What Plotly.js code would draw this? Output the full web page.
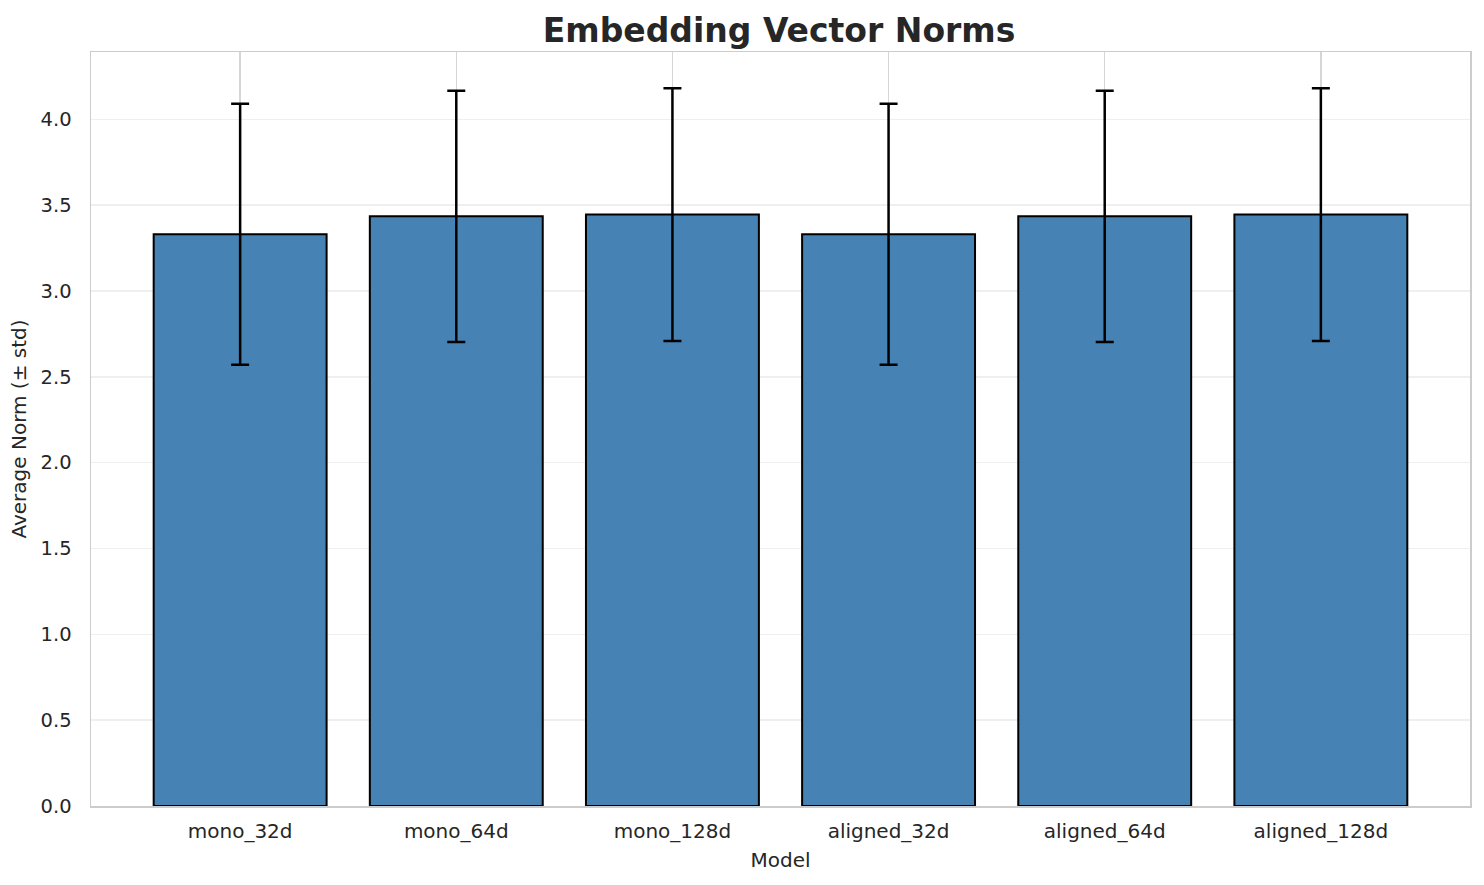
<!DOCTYPE html>
<html>
<head>
<meta charset="utf-8">
<script src="https://cdn.plot.ly/plotly-3.0.1.min.js"></script>
<style>html,body{margin:0;padding:0;background:#fff;}#chart{width:1484px;height:885px;}</style>
</head>
<body>
<div id="chart"></div>
<script>
const models = ["mono_32d", "mono_64d", "mono_128d", "aligned_32d", "aligned_64d", "aligned_128d"];
const avgNorm = [3.33, 3.435, 3.445, 3.33, 3.435, 3.445];
const stdNorm = [0.76, 0.732, 0.736, 0.76, 0.732, 0.736];

const trace = {
  type: "bar",
  x: models.map((m, i) => i),
  y: avgNorm,
  width: 0.8,
  marker: {color: "#4682b4", line: {color: "#000000", width: 2}},
  error_y: {type: "data", array: stdNorm, visible: true, color: "#000000", thickness: 2.5, width: 9},
  hoverinfo: "none"
};

const layout = {
  width: 1484, height: 885,
  margin: {l: 91, r: 14, t: 52, b: 79},
  paper_bgcolor: "#ffffff", plot_bgcolor: "#ffffff",
  font: {family: "DejaVu Sans, sans-serif", color: "#262626", size: 20},
  title: {text: "<b>Embedding Vector Norms</b>", font: {size: 33, color: "#262626"}, x: 0.525, xanchor: "center", y: 0.966, yanchor: "middle"},
  xaxis: {
    title: {text: "Model", font: {size: 20}, standoff: 11},
    tickmode: "array", tickvals: models.map((m, i) => i), ticktext: models,
    range: [-0.69, 5.69],
    showgrid: true, gridcolor: "#d6d6d6", gridwidth: 1.5,
    showline: true, linecolor: "#cccccc", linewidth: 1.5, mirror: true,
    ticks: "", tickfont: {size: 20}, zeroline: false, ticklabelstandoff: 6
  },
  yaxis: {
    title: {text: "Average Norm (± std)", font: {size: 20}, standoff: 8},
    range: [0, 4.392], dtick: 0.5, tickformat: ".1f",
    showgrid: true, gridcolor: "#efefef", gridwidth: 1.5,
    showline: true, linecolor: "#cccccc", linewidth: 1.5, mirror: true,
    ticks: "", tickfont: {size: 19.5}, zeroline: false, ticklabelstandoff: 14
  },
  showlegend: false
};

Plotly.newPlot("chart", [trace], layout, {displayModeBar: false, staticPlot: true});
</script>
</body>
</html>
